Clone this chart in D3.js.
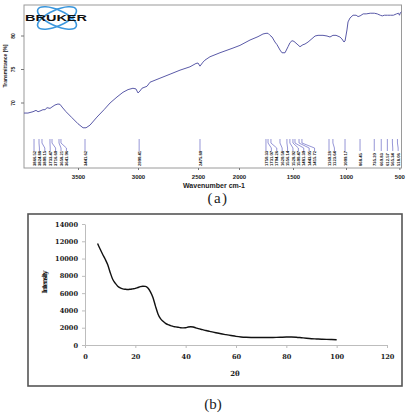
<!DOCTYPE html>
<html>
<head>
<meta charset="utf-8">
<script src="https://cdnjs.cloudflare.com/ajax/libs/d3/7.8.5/d3.min.js"></script>
<style>
  body { margin: 0; background: #fff; }
  svg { display: block; }
</style>
</head>
<body>
<svg id="chart" width="409" height="413"></svg>
<script>

// Data
  // (a) FTIR spectrum
  var irWavenumber = [3950,3917,3875,3850,3833,3817,3792,3775,3758,3733,3717,3692,3667,3650,3633,3600,3550,3500,3458,3433,
    3400,3342,3283,3233,3175,3125,3083,3042,3017,3000,2983,2967,2925,2900,2817,2733,2650,2567,2517,2500,
    2476,2439,2415,2354,2232,2073,1991,1898,1824,1778,1750,1731,1713,1694,1667,1648,1620,1602,1574,1546,
    1528,1509,1491,1462,1434,1406,1387,1358,1321,1292,1264,1217,1179,1151,1123,1094,1057,1038,1019,1009,
    991,981,962,934,905,887,868,839,811,773,735,707,679,660,641,612,584,556,527,508,499,490,480];
  var irTransmittance = [68.5,68.5,68.7,68.9,68.7,68.8,69.0,69.0,69.3,69.2,69.4,69.7,69.85,69.8,69.4,68.7,67.8,66.9,66.3,66.3,
    66.7,67.9,69.0,70.0,70.9,71.6,72.0,72.2,72.1,71.5,71.8,72.2,72.5,73.1,73.7,74.3,74.9,75.4,75.9,75.97,
    75.5,76.1,76.4,76.9,77.5,78.2,78.6,79.4,79.9,80.3,80.4,80.4,80.1,79.85,79.1,78.7,77.9,77.5,77.5,78.4,
    79.0,79.3,79.2,78.8,78.4,78.7,78.8,79.1,79.6,80.0,80.1,80.1,80.0,79.85,80.1,80.1,79.85,79.55,79.1,79.25,
    80.9,82.1,82.7,83.1,83.1,82.9,83.0,83.3,83.3,83.4,83.4,83.3,83.1,83.0,83.1,83.1,83.1,83.1,83.3,83.4,83.1,83.5,83.6];
  // picked peaks (labels under the curve)
  var irPeaks = [3866.52,3824.88,3800.15,3733.47,3716.60,3658.21,3641.96,3441.62,2990.41,2475.80,
    1750.33,1731.07,1704.26,1620.58,1556.14,1528.92,1500.47,1481.39,1443.05,1415.72,
    1160.28,1123.64,1009.17,868.45,735.20,669.83,612.57,565.34,518.06];
  var irTicksX = [3500,3000,2500,2000,1500,1000,500];
  var irTicksY = [80,75,70];

  // (b) XRD pattern
  var xrdTwoTheta = [5,6,7,8,9,10,11,12,13,14,15,16,17,18,19,20,21,22,23,24,25,26,27,28,29,30,31,32,33,34,35,36,37,38,39,40,
    41,42,43,44,45,46,47,48,49,50,52,54,56,58,60,62,64,66,68,70,72,74,76,78,80,82,84,86,88,90,92,94,96,98,100];
  var xrdIntensity = [11750,11100,10500,9950,9300,8400,7600,7150,6800,6600,6500,6450,6420,6450,6500,6550,6650,6750,6800,6780,
    6600,6150,5500,4500,3600,3050,2750,2500,2350,2250,2150,2100,2050,2000,1980,2000,
    2080,2120,2080,1990,1900,1820,1750,1680,1620,1550,1420,1300,1200,1100,1000,930,890,870,860,860,860,870,880,900,920,
    930,900,840,780,730,700,670,650,630,600];
  var xrdTicksX = [0,20,40,60,80,100,120];
  var xrdTicksY = [0,2000,4000,6000,8000,10000,12000,14000];

var svg = d3.select('#chart');
var plain = d3.format('d');

// ---------- (a) FTIR ----------
  var irBox = {left: 24, top: 5, right: 401.5, bottom: 168};

  // the scanned axis is not evenly spaced, so the scale has a knot at each labelled tick
  var xIr = d3.scaleLinear()
    .domain([3950, 2500, 2000, 1500, 1000, 480])
    .range([irBox.left, 198, 239, 293, 346, irBox.right]);
  var yIr = d3.scaleLinear()
    .domain([70, 80])
    .range([103, 36]);

  var gA = svg.append('g');

  // frame
  gA.append('rect')
    .attr('x', irBox.left).attr('y', irBox.top)
    .attr('width', irBox.right - irBox.left)
    .attr('height', irBox.bottom - irBox.top)
    .attr('fill', 'none')
    .attr('stroke', '#9a9a9a')
    .attr('stroke-width', 1);

  // x axis
  var axA = gA.append('g')
    .attr('transform', 'translate(0,' + irBox.bottom + ')')
    .call(d3.axisBottom(xIr).tickValues(irTicksX).tickFormat(plain).tickSize(2).tickPadding(5));
  axA.select('.domain').remove();
  axA.selectAll('line').attr('stroke', '#777');
  axA.selectAll('text')
    .attr('fill', '#222')
    .style('font', 'bold 6px "Liberation Sans", Arial, sans-serif');

  gA.append('text')
    .attr('x', 214).attr('y', 187.5)
    .attr('text-anchor', 'middle')
    .attr('fill', '#222')
    .style('font', 'bold 7px "Liberation Sans", Arial, sans-serif')
    .text('Wavenumber cm-1');

  // y axis: small ticks, rotated labels
  gA.selectAll('.ytick').data(irTicksY).enter()
    .append('line')
    .attr('x1', irBox.left - 3).attr('x2', irBox.left)
    .attr('y1', yIr).attr('y2', yIr)
    .attr('stroke', '#777');
  gA.selectAll('.ylab').data(irTicksY).enter()
    .append('text')
    .attr('transform', function (d) { return 'translate(14.5,' + yIr(d) + ') rotate(-90)'; })
    .attr('text-anchor', 'middle')
    .attr('fill', '#222')
    .style('font', 'bold 5px "Liberation Sans", Arial, sans-serif')
    .text(function (d) { return d; });

  gA.append('text')
    .attr('transform', 'translate(6.5,66) rotate(-90)')
    .attr('text-anchor', 'middle')
    .attr('fill', '#222')
    .style('font', 'bold 5px "Liberation Sans", Arial, sans-serif')
    .text('Transmittance [%]');

  // spectrum
  var irLine = d3.line()
    .x(function (d) { return xIr(d[0]); })
    .y(function (d) { return yIr(d[1]); });

  gA.append('path')
    .datum(d3.zip(irWavenumber, irTransmittance))
    .attr('d', irLine)
    .attr('fill', 'none')
    .attr('stroke', '#5a5aa8')
    .attr('stroke-width', 1);

  // peak labels: spread left to right so they don't overlap
  var peakX = irPeaks.map(function (p) { return xIr(p); });
  var labelX = [];
  peakX.forEach(function (px, i) {
    labelX[i] = i === 0 ? px : Math.max(px, labelX[i - 1] + 5.4);
  });

  gA.selectAll('.peakline').data(irPeaks).enter()
    .append('path')
    .attr('d', function (d, i) {
      return 'M' + peakX[i] + ',139V143L' + labelX[i] + ',148V151';
    })
    .attr('fill', 'none')
    .attr('stroke', '#7b7bcc')
    .attr('stroke-width', 0.8);

  gA.selectAll('.peaklab').data(irPeaks).enter()
    .append('text')
    .attr('transform', function (d, i) { return 'translate(' + (labelX[i] + 1.6) + ',166) rotate(-90)'; })
    .attr('fill', '#111')
    .style('font', 'bold 4.2px "Liberation Sans", Arial, sans-serif')
    .text(function (d) { return d3.format('.2f')(d); });

  // Bruker logo
  var logo = gA.append('g').attr('transform', 'translate(57,18)');
  [-24, 24].forEach(function (a) {
    logo.append('ellipse')
      .attr('rx', 21).attr('ry', 8)
      .attr('transform', 'rotate(' + a + ')')
      .attr('fill', 'none')
      .attr('stroke', '#3b97dd')
      .attr('stroke-width', 1.6);
  });
  logo.append('text')
    .attr('x', -32).attr('y', 3.2)
    .attr('textLength', 62)
    .attr('lengthAdjust', 'spacingAndGlyphs')
    .attr('fill', '#111')
    .style('font', '900 9px "Liberation Sans", Arial, sans-serif')
    .text('BRUKER');

  svg.append('text')
    .attr('x', 218).attr('y', 203)
    .attr('text-anchor', 'middle')
    .attr('fill', '#222')
    .style('font', '15px "Liberation Serif", "Times New Roman", serif')
    .style('letter-spacing', '1.5px')
    .text('(a)');

// ---------- (b) XRD ----------
  var gB = svg.append('g');

  gB.append('rect')
    .attr('x', 28).attr('y', 214)
    .attr('width', 374).attr('height', 172)
    .attr('fill', 'none')
    .attr('stroke', '#555')
    .attr('stroke-width', 1.6);

  var xX = d3.scaleLinear().domain([0, 120]).range([85, 387]);
  var yX = d3.scaleLinear().domain([0, 14000]).range([345, 224]);

  var axBx = gB.append('g')
    .attr('transform', 'translate(0,' + yX(0) + ')')
    .call(d3.axisBottom(xX).tickValues(xrdTicksX).tickFormat(plain).tickSize(3).tickPadding(6).tickSizeOuter(0));
  var axBy = gB.append('g')
    .attr('transform', 'translate(' + xX(0) + ',0)')
    .call(d3.axisLeft(yX).tickValues(xrdTicksY).tickFormat(plain).tickSize(3).tickPadding(4).tickSizeOuter(0));

  [axBx, axBy].forEach(function (ax) {
    ax.select('.domain').attr('stroke', '#bdbdbd');
    ax.selectAll('line').attr('stroke', '#bdbdbd');
    ax.selectAll('text')
      .attr('fill', '#222')
      .style('font', 'bold 6.6px "DejaVu Serif", serif');
  });

  gB.append('text')
    .attr('transform', 'translate(47,282) rotate(-90)')
    .attr('text-anchor', 'middle')
    .attr('fill', '#222')
    .attr('textLength', 23)
    .style('font', 'bold 7px "DejaVu Serif", serif')
    .text('Intensity');

  gB.append('text')
    .attr('x', 235).attr('y', 375.5)
    .attr('text-anchor', 'middle')
    .attr('fill', '#222')
    .style('font', 'bold 7px "DejaVu Serif", serif')
    .text('2θ');

  var xrdLine = d3.line()
    .curve(d3.curveMonotoneX)
    .x(function (d) { return xX(d[0]); })
    .y(function (d) { return yX(d[1]); });

  gB.append('path')
    .datum(d3.zip(xrdTwoTheta, xrdIntensity))
    .attr('d', xrdLine)
    .attr('fill', 'none')
    .attr('stroke', '#111')
    .attr('stroke-width', 1.4);

  svg.append('text')
    .attr('x', 213).attr('y', 408.5)
    .attr('text-anchor', 'middle')
    .attr('fill', '#222')
    .style('font', '15px "Liberation Serif", "Times New Roman", serif')
    .text('(b)');

</script>
</body>
</html>
